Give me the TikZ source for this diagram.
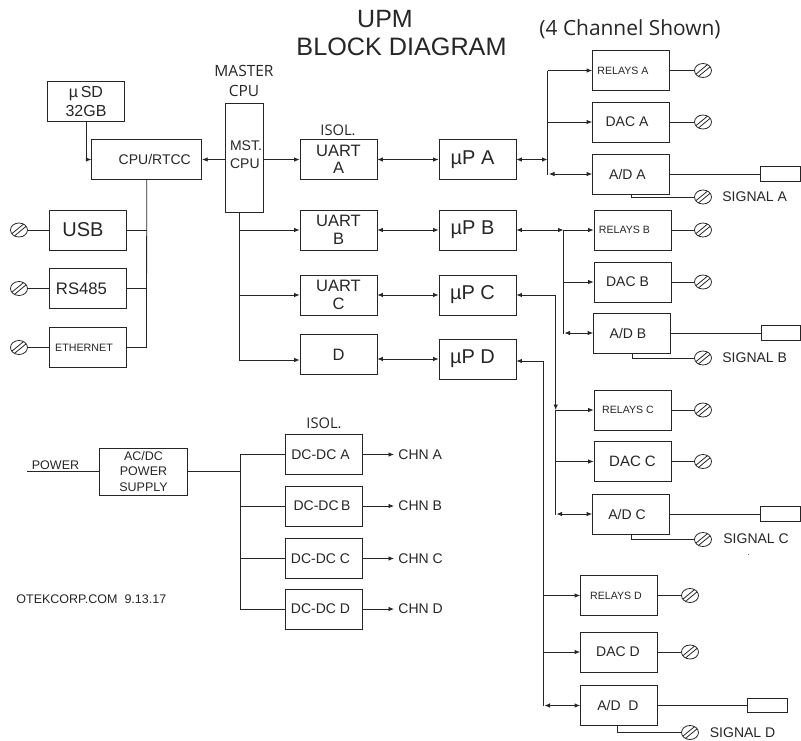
\documentclass[tikz,border=0pt]{standalone}
\usepackage{fontspec}
\setmainfont{Liberation Sans}
\newfontfamily\myr{Open Sans}
\usetikzlibrary{shapes.geometric,arrows.meta}
\newcommand{\sz}[1]{\fontsize{#1}{#1}\selectfont}
\tikzset{
  blk/.style={draw, minimum width=77pt, minimum height=40pt, inner sep=0pt, align=center, font=\sz{14}},
  outbox/.style={draw, minimum width=39.5pt, minimum height=14.5pt, inner sep=0pt},
  lbl/.style={inner sep=0pt, font=\sz{14}},
  term/.style={draw, ellipse, minimum width=17pt, minimum height=14pt, inner sep=0pt,
    path picture={
      \draw ([shift={(-1.2pt,1.2pt)}]path picture bounding box.south west) -- ([shift={(-1.2pt,1.2pt)}]path picture bounding box.north east);
      \draw ([shift={(1.2pt,-1.2pt)}]path picture bounding box.south west) -- ([shift={(1.2pt,-1.2pt)}]path picture bounding box.north east);
    }}
}
\begin{document}
\begin{tikzpicture}[x=1pt, y=-1pt, >={Latex[length=5.5pt,width=4.5pt]}, line width=.8pt, color=black!85]
  \useasboundingbox (0,0) rectangle (801,740);
  \node (ttlA) [lbl, font=\sz{25}] at (385,19) {UPM};
  \node (ttlB) [lbl, font=\sz{25.2}] at (401.5,47) {BLOCK DIAGRAM};
  \node (chn) [lbl, font=\myr\sz{20.9}] at (630,29) {(4 Channel Shown)};
  \node (mstL) [lbl, align=center, font=\myr\sz{15.5}] at (244,81) {MASTER\\[5pt]CPU};

  \node (sd) [blk, font=\sz{16}] at (86,101.5) {µ\,SD\\[3pt]32GB};
  \node (cpu) [blk, minimum width=110pt] at (146.75,159.5) {\hspace*{16pt}CPU/RTCC};
  \node (mst) [blk, minimum width=38pt, minimum height=108.5pt, align=left] at (244,158) {\hspace*{4pt}MST.\\[4pt]\hspace*{4pt}CPU\rule[-6pt]{0pt}{1pt}};
  \node (usb) [blk, font=\sz{20}] at (88,230) {USB\hspace*{10pt}};
  \node (rs) [blk, font=\sz{16.7}, below of=usb, node distance=58.5pt] {RS485\hspace*{13pt}};
  \node (eth) [blk, font=\sz{10.7}, below of=rs, node distance=59pt] {ETHERNET\hspace*{8pt}};
  \node (tUsb) [term, left of=usb, node distance=69pt] {};
  \node (tRs) [term, left of=rs, node distance=69pt] {};
  \node (tEth) [term, left of=eth, node distance=69pt] {};

  \node (isoA) [lbl, font=\myr\sz{14.7}] at (338,130) {ISOL.};
  \node (uartA) [blk, font=\sz{16.5}] at (338.5,159.5) {UART\\[1pt]A};
  \node (uartB) [blk, font=\sz{16.5}, below of=uartA, node distance=70.5pt] {UART\\[1pt]B};
  \node (uartC) [blk, font=\sz{16.5}, below of=uartB, node distance=65pt] {UART\\[1pt]C};
  \node (uartD) [blk, font=\sz{16.5}, below of=uartC, node distance=59.5pt] {D};
  \node (upA) [blk, font=\sz{20}, right of=uartA, node distance=139pt] {µP A\hspace*{10pt}};
  \node (upB) [blk, font=\sz{20}, below of=upA, node distance=70.5pt] {µP B\hspace*{10pt}};
  \node (upC) [blk, font=\sz{20}, below of=upB, node distance=65pt] {µP C\hspace*{10pt}};
  \node (upD) [blk, font=\sz{20}, below of=upC, node distance=64pt] {µP D\hspace*{10pt}};

  \node (relA) [blk, font=\sz{10.6}] at (631,70.5) {RELAYS A\hspace*{16pt}};
  \node (dacA) [blk, below of=relA, node distance=51.5pt] {DAC A\hspace*{8pt}};
  \node (adA) [blk, below of=dacA, node distance=52pt] {A/D A\hspace*{7pt}};
  \node (relB) [blk, font=\sz{10.6}] at (632.5,230) {RELAYS B\hspace*{16pt}};
  \node (dacB) [blk, below of=relB, node distance=52pt] {DAC B\hspace*{10pt}};
  \node (adB) [blk, below of=dacB, node distance=51pt, xshift=-.5pt] {A/D B\hspace*{8pt}};
  \node (relC) [blk, font=\sz{10.6}] at (632.5,410) {RELAYS C\hspace*{9pt}};
  \node (dacC) [blk, font=\sz{15}, below of=relC, node distance=51.5pt] {DAC C};
  \node (adC) [blk, below of=dacC, node distance=52.5pt, xshift=-1.5pt] {A/D C\hspace*{8pt}};
  \node (relD) [blk, font=\sz{10.6}] at (619,595.5) {RELAYS D\hspace*{6pt}};
  \node (dacD) [blk, below of=relD, node distance=56.5pt] {DAC D\hspace*{2pt}};
  \node (adD) [blk, below of=dacD, node distance=53.5pt] {A/D\ \ D\hspace*{2pt}};

  \node (tRelA) [term, right of=relA, node distance=72pt] {};
  \node (tDacA) [term, right of=dacA, node distance=72pt] {};
  \node (tSigA) [term] at (703,197) {};
  \node (tRelB) [term, right of=relB, node distance=70.5pt] {};
  \node (tDacB) [term, right of=dacB, node distance=70.5pt] {};
  \node (tSigB) [term] at (703,358) {};
  \node (tRelC) [term, right of=relC, node distance=70.5pt] {};
  \node (tDacC) [term, right of=dacC, node distance=70.5pt] {};
  \node (tSigC) [term] at (703,539.5) {};
  \node (tRelD) [term, right of=relD, node distance=71pt] {};
  \node (tDacD) [term, right of=dacD, node distance=71pt] {};
  \node (tSigD) [term] at (690,732.5) {};
  \node (outA) [outbox, right of=adA, node distance=149.5pt] {};
  \node (outB) [outbox, right of=adB, node distance=149pt] {};
  \node (outC) [outbox, right of=adC, node distance=149.5pt] {};
  \node (outD) [outbox, right of=adD, node distance=148.3pt] {};
  \node (sigA) [lbl, anchor=west] at (722,197) {SIGNAL A};
  \node (sigB) [lbl, anchor=west] at (722,358) {SIGNAL B};
  \node (sigC) [lbl, anchor=west] at (723,539) {SIGNAL C};
  \node (sigD) [lbl, anchor=west] at (709.5,732.5) {SIGNAL D};
  \node (dot) [lbl, font=\sz{8}] at (748.7,555) {.};

  \node (psu) [blk, minimum width=87.5pt, minimum height=46.7pt, font=\sz{12.5}] at (143.5,471.7) {AC/DC\\[2.5pt]POWER\\[3pt]SUPPLY};
  \node (pwrL) [lbl, font=\sz{12.5}] at (55.5,465) {POWER};
  \node (isoB) [lbl, font=\myr\sz{14.7}] at (324,423) {ISOL.};
  \node (dcA) [blk] at (324,454.5) {DC-DC A\hspace*{7pt}};
  \node (dcB) [blk, below of=dcA, node distance=51.5pt] {DC-DC\,B\hspace*{4pt}};
  \node (dcC) [blk, below of=dcB, node distance=52.5pt] {DC-DC C\hspace*{7pt}};
  \node (dcD) [blk, below of=dcC, node distance=50.5pt] {DC-DC D\hspace*{7pt}};
  \node (chnA) [lbl, anchor=west] at (398,454.5) {CHN A};
  \node (chnB) [lbl, anchor=west] at (398,506) {CHN B};
  \node (chnC) [lbl, anchor=west] at (398,558.5) {CHN C};
  \node (chnD) [lbl, anchor=west] at (398,609) {CHN D};
  \node (web) [lbl, anchor=west, font=\sz{12.5}] at (16,599) {OTEKCORP.COM\ \ 9.13.17};

  \coordinate (busU1) at (146.5,230);
  \coordinate (busU2) at (146.5,288.5);
  \coordinate (busU3) at (146.5,347.5);
  \coordinate (busM0) at (239,212);
  \coordinate (busM1) at (239,230);
  \coordinate (busM2) at (239,295);
  \coordinate (busM3) at (239,360);
  \coordinate (busA0) at (547.5,159.5);
  \coordinate (busA1) at (547.5,70.5);
  \coordinate (busA2) at (547.5,122);
  \coordinate (busA3) at (549,174);
  \coordinate (busA4) at (547.5,175);
  \coordinate (busB0) at (563.5,230);
  \coordinate (busB2) at (563.5,282);
  \coordinate (busB3) at (564.5,333);
  \coordinate (busB4) at (563.5,334);
  \coordinate (busC1) at (555.7,410);
  \coordinate (busC2) at (555.7,461.5);
  \coordinate (busC3) at (556.5,514);
  \coordinate (busC4) at (555.7,515);
  \coordinate (busD1) at (543.5,595.5);
  \coordinate (busD2) at (543.5,652);
  \coordinate (busD3) at (544.5,705.5);
  \coordinate (busD4) at (543.5,705.5);
  \coordinate (busP0) at (240,471.7);
  \coordinate (busP1) at (240,454.5);
  \coordinate (busP2) at (240,506);
  \coordinate (busP3) at (240,558.5);
  \coordinate (busP4) at (240,609);
  \coordinate (pwrIn) at (27,471.7);
  \coordinate (endA) at (394,454.5);
  \coordinate (endB) at (394,506);
  \coordinate (endC) at (394,558.5);
  \coordinate (endD) at (394,609);

  \draw[->] (sd) |- (cpu);
  \path[->] (cpu.east -| mst.west) edge (cpu)
            (cpu.east -| mst.east) edge (uartA)
            (busM1) edge (uartB)
            (busM2) edge (uartC)
            (busM3) edge (busM3 -| uartD.west)
            (busA1) edge (relA)
            (busA2) edge (dacA)
            (busB0) edge (relB)
            (busB2) edge (dacB)
            (busC1) edge (relC)
            (busC2) edge (dacC)
            (busD1) edge (relD)
            (busD2) edge (dacD)
            (dcA) edge (endA)
            (dcB) edge (endB)
            (dcC) edge (endC)
            (dcD) edge (endD)
            ;
  \path[<->] (uartA) edge (upA)
             (uartB) edge (upB)
             (uartC) edge (upC)
             (upD -| uartD.east) edge (upD)
             (upA) edge (busA0)
             (upB) edge (busB0)
             (busA3) edge (adA)
             (busB3) edge (adB)
             (busC3) edge (adC)
             (busD3) edge (adD)
             ;
  \draw[<->] (upC) -| (busC1);
  \draw[<-] ([yshift=-2pt]upD.east) -| (busD4);
  \path[-]  (cpu) edge (busU3)
            (usb) edge (busU1)
            (rs) edge (busU2)
            (eth) edge (busU3)
            (tUsb) edge (usb)
            (tRs) edge (rs)
            (tEth) edge (eth)
            (busM0) edge (busM3)
            (busA1) edge (busA4)
            (busB0) edge (busB4)
            (busC1) edge (busC4)
            (relA) edge (tRelA)
            (dacA) edge (tDacA)
            (relB) edge (tRelB)
            (dacB) edge (tDacB)
            (relC) edge (tRelC)
            (dacC) edge (tDacC)
            (relD) edge (tRelD)
            (dacD) edge (tDacD)
            (adA) edge (outA)
            (adB) edge (outB)
            (adC) edge (outC)
            (adD) edge (outD)
            (pwrIn) edge (psu)
            (psu) edge (busP0)
            (busP1) edge (busP4)
            (busP1) edge (dcA)
            (busP2) edge (dcB)
            (busP3) edge (dcC)
            (busP4) edge (dcD)
            ;
  \draw (adA) |- (tSigA);
  \draw (adB) |- (tSigB);
  \draw (adC) |- (tSigC);
  \draw ([xshift=-1.7pt]adD.south) |- (tSigD);
\end{tikzpicture}
\end{document}
